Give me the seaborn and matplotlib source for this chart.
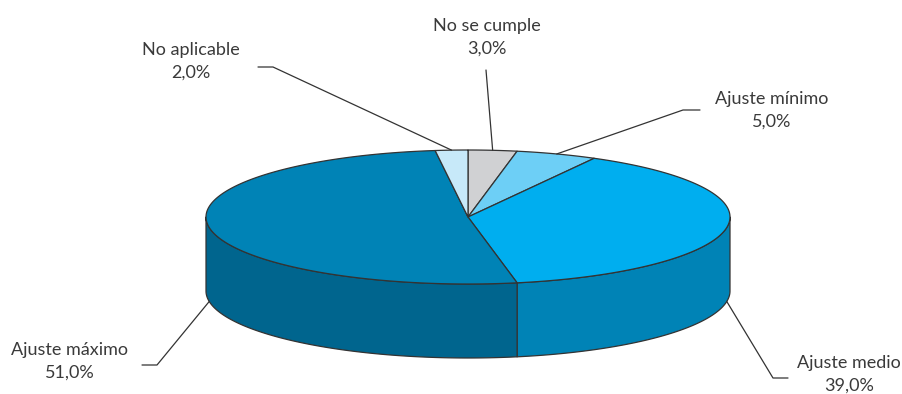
import numpy as np
import matplotlib
matplotlib.use("Agg")
import matplotlib.pyplot as plt
from matplotlib.patches import Polygon
import seaborn as sns

# Survey answers, clockwise from 12 o'clock
categories = ["No se cumple", "Ajuste mínimo", "Ajuste medio", "Ajuste máximo", "No aplicable"]
shares = [3.0, 5.0, 39.0, 51.0, 2.0]
value_labels = ["3,0%", "5,0%", "39,0%", "51,0%", "2,0%"]

top_colors = sns.color_palette(["#d0d1d3", "#6dcff6", "#00aeef", "#0083b6", "#c7e9f9"])
side_colors = sns.color_palette(["#a9aaac", "#4fa9cc", "#0083b6", "#00658e", "#9fc4d6"])

sns.set_theme(style="white")
plt.rcParams["font.family"] = ["Lato", "DejaVu Sans"]

W, H = 903, 394
fig = plt.figure(figsize=(W / 100, H / 100), dpi=100)
ax = fig.add_axes([0, 0, 1, 1])
ax.set_xlim(0, W)
ax.set_ylim(H, 0)
ax.axis("off")

# Layout of the tilted pie (pixel units)
cx, cy = 468, 217
rx, ry = 262, 67
depth = 74
edge = "#333333"


def pt(t, dy=0.0):
    return cx + rx * np.cos(t), cy - ry * np.sin(t) + dy


# Slice boundaries as angles, start at top and run clockwise
total = sum(shares)
bounds = np.pi / 2 - 2 * np.pi * np.concatenate([[0], np.cumsum(shares)]) / total

# Front wall: the part of each slice whose angles face the viewer (sin < 0)
for i in range(len(shares)):
    a_hi, a_lo = bounds[i], bounds[i + 1]
    for shift in (0.0, 2 * np.pi, -2 * np.pi):
        lo, hi = a_lo + shift, a_hi + shift
        s, e = max(lo, -np.pi), min(hi, 0.0)
        if e > s:
            ts = np.linspace(s, e, 120)
            xt, yt = pt(ts)
            xb, yb = pt(ts[::-1], depth)
            poly = np.column_stack([np.r_[xt, xb], np.r_[yt, yb]])
            ax.add_patch(Polygon(poly, closed=True, facecolor=side_colors[i],
                                 edgecolor=edge, linewidth=0.9, joinstyle="round"))

# Top face wedges
for i in range(len(shares)):
    ts = np.linspace(bounds[i], bounds[i + 1], 200)
    xs, ys = pt(ts)
    poly = np.column_stack([np.r_[cx, xs], np.r_[cy, ys]])
    ax.add_patch(Polygon(poly, closed=True, facecolor=top_colors[i],
                         edgecolor=edge, linewidth=0.9, joinstyle="round"))

# Labels and leader lines
text_color = "#3a3a3a"
line_color = "#333333"
label_pos = [(487, 37), (772, 110), (849, 374), (70, 361), (191, 61)]
leader_knee = [None, (700, 110), (773, 378), (142, 365), (258, 67)]
leader_elbow = [(486, 70), (683, 110), (788, 378), (157, 365), (273, 67)]

for i, name in enumerate(categories):
    mid = (bounds[i] + bounds[i + 1]) / 2
    if np.sin(mid) >= 0:
        ax_, ay_ = pt(mid)
    else:
        ax_, ay_ = pt(mid, depth)
    ex, ey = leader_elbow[i]
    xs_line = [ax_, ex]
    ys_line = [ay_, ey]
    if leader_knee[i] is not None:
        kx, ky = leader_knee[i]
        if i == 2:
            xs_line = [ax_, kx, ex]
            ys_line = [ay_, ky, ey]
        else:
            xs_line = [ax_, ex, kx]
            ys_line = [ay_, ey, ky]
    ax.plot(xs_line, ys_line, color=line_color, linewidth=0.9)
    lx, ly = label_pos[i]
    ax.text(lx, ly, f"{name}\n{value_labels[i]}", ha="center", va="center",
            fontsize=13, color=text_color, linespacing=1.5)

fig.savefig("out.png", dpi=100)
